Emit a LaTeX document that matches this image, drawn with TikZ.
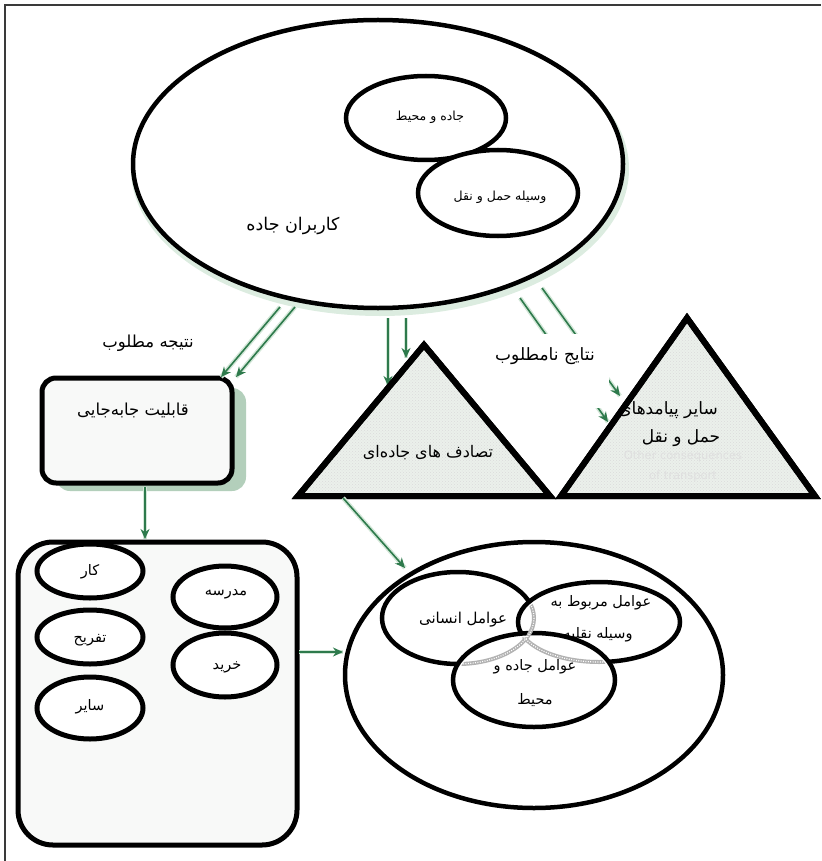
\documentclass[tikz,border=0pt]{standalone}
\usepackage{fontspec}
\usetikzlibrary{shapes.geometric,arrows.meta,patterns}
\newfontfamily\fa[Script=Arabic]{DejaVu Sans}
\TeXXeTstate=1
\newcommand\rl[1]{\beginR #1\endR}
\definecolor{arrgreen}{HTML}{2E7A4C}
\definecolor{glow}{HTML}{D3E7D8}
\definecolor{trifill}{HTML}{EBF0EB}
\definecolor{boxfill}{HTML}{F8F9F8}
\definecolor{shadowgreen}{HTML}{B3CFBB}
\definecolor{framegray}{HTML}{3A3A3A}
\tikzset{
  ellbox/.style={ellipse, draw=black, line width=4.5pt, fill=white, inner sep=0pt},
  garrow/.style={draw=arrgreen, line width=1.6pt, -{Stealth[length=10pt,width=9pt]},
     preaction={draw=glow, line width=4.5pt, -{}}},
  fatxt/.style={font=\fa\fontsize{#1}{#1}\selectfont, inner sep=0pt},
  fatxt/.default=13,
  tri/.style={draw=black, line width=6pt, line join=miter, fill=trifill},
  hidden/.style={draw=gray!60, line width=4pt},
  hiddendots/.style={draw=white, line width=1.2pt, dash pattern=on 1pt off 1.4pt},
}
\begin{document}
\begin{tikzpicture}[x=1pt,y=-1pt]
\useasboundingbox (0,0) rectangle (821,861);
% frame
\draw[framegray, line width=2pt] (5,861) -- (5,5) -- (821,5);

% ---------- top ellipse group ----------
\fill[glow!80] (380,169) ellipse [x radius=249, y radius=147];
\node[ellbox, minimum width=490pt, minimum height=288pt] (users) at (378,164) {};
\node[ellbox, minimum width=160pt, minimum height=84pt] (road) at (426,118) {};
\node[ellbox, minimum width=160pt, minimum height=86pt] (vehicle) at (498,193) {};
\node[fatxt=12.5] (troad) at (430,117) {\rl{جاده و محیط}};
\node[fatxt=12.5] (tveh) at (500,197) {\rl{وسیله حمل و نقل}};
\node[fatxt=17.5] (tusers) at (293,226) {\rl{کاربران جاده}};

% ---------- mobility rectangle ----------
\fill[shadowgreen, rounded corners=14pt] (56,388) rectangle (246,491);
\node[draw=black, line width=5pt, fill=boxfill, rounded corners=14pt,
      minimum width=190pt, minimum height=105pt, inner sep=0pt] (mob) at (137,430.5) {};
\node[fatxt=16.5] (tmob) at (133,410) {\rl{قابلیت جابه‌جایی}};
\node[fatxt=16.5] (tdes) at (148,343) {\rl{نتیجه مطلوب}};

% ---------- connectors from road users ----------
\coordinate (a1s) at (280,307); \coordinate (a1e) at (221,377);
\coordinate (a2s) at (295,307); \coordinate (a2e) at (236,377);
\coordinate (a3s) at (388,318); \coordinate (a3e) at (388,386);
\coordinate (a4s) at (406,318); \coordinate (a4e) at (406,358);
\coordinate (a5s) at (542,288); \coordinate (a5e) at (620,396);
\coordinate (a6s) at (520,298); \coordinate (a6e) at (608,422);
\draw[garrow] (a1s) -- (a1e);
\draw[garrow] (a2s) -- (a2e);
\draw[garrow] (a3s) -- (a3e);
\draw[garrow] (a4s) -- (a4e);
\draw[garrow] (a5s) -- (a5e);
\draw[garrow] (a6s) -- (a6e);
\node[fill=white, minimum width=137pt, minimum height=74pt, inner sep=0pt] (undesbox) at (540.5,371) {};
\node[fatxt=17] (tundes) at (545,356) {\rl{نتایج نامطلوب}};

% ---------- triangles ----------
\coordinate (t1a) at (424,345); \coordinate (t1b) at (298,496); \coordinate (t1c) at (550,496);
\coordinate (t2a) at (687,318); \coordinate (t2b) at (561,496); \coordinate (t2c) at (815,496);
\draw[tri] (t1a) -- (t1b) -- (t1c) -- cycle;
\fill[pattern=crosshatch dots, pattern color=gray!28] (t1a) -- (t1b) -- (t1c) -- cycle;
\draw[tri, fill=none] (t1a) -- (t1b) -- (t1c) -- cycle;
\draw[tri] (t2a) -- (t2b) -- (t2c) -- cycle;
\fill[pattern=crosshatch dots, pattern color=gray!28] (t2a) -- (t2b) -- (t2c) -- cycle;
\draw[tri, fill=none] (t2a) -- (t2b) -- (t2c) -- cycle;
\node[fatxt=16] (tcrash) at (428,453) {\rl{تصادف های جاده‌ای}};
\node[font=\fa\fontsize{11.5}{11.5}\selectfont, text=gray!25, inner sep=0pt] (teng1) at (683,456) {Other consequences};
\node[font=\fa\fontsize{11.5}{11.5}\selectfont, text=gray!25, inner sep=0pt] (teng2) at (683,476) {of transport};
\node[fatxt=17] (tother1) at (668,410) {\rl{سایر پیامدهای}};
\node[fatxt=17] (tother2) at (681,438) {\rl{حمل و نقل}};

% ---------- purposes box ----------
\node[draw=black, line width=5pt, fill=boxfill, rounded corners=35pt,
      minimum width=279pt, minimum height=303pt, inner sep=0pt] (purp) at (157.5,693.5) {};
\node[ellbox, line width=5pt, minimum width=106pt, minimum height=54pt] (work) at (90,571) {};
\node[ellbox, line width=5pt, minimum width=106pt, minimum height=54pt] (leis) at (90,637) {};
\node[ellbox, line width=5pt, minimum width=106pt, minimum height=62pt] (oth) at (90,708) {};
\node[ellbox, line width=5pt, minimum width=104pt, minimum height=62pt] (school) at (225,597) {};
\node[ellbox, line width=5pt, minimum width=104pt, minimum height=64pt] (shop) at (225,665) {};
\node[fatxt=14.5] at (90,572) {\rl{کار}};
\node[fatxt=14.5] at (90,640) {\rl{تفریح}};
\node[fatxt=14.5] at (90,707) {\rl{سایر}};
\node[fatxt=14.5] at (226,594) {\rl{مدرسه}};
\node[fatxt=14.5] at (227,667) {\rl{خرید}};

% ---------- factors ellipse ----------
\node[ellbox, minimum width=378pt, minimum height=266pt] (factors) at (534,675) {};
\node[ellbox, minimum width=152pt, minimum height=92pt] (human) at (458,618) {};
\node[ellbox, minimum width=162pt, minimum height=80pt] (vehf) at (599,622) {};
\node[fatxt=15] (thuman) at (463,620) {\rl{عوامل انسانی}};
\node[fatxt=14.5] (tvehf1) at (601,603) {\rl{عوامل مربوط به}};
\node[fatxt=14.5] (tvehf2) at (598,635) {\rl{وسیله نقلیه}};
\node[ellbox, minimum width=162pt, minimum height=94pt] (roadf) at (534,680) {};
\begin{scope}
  \clip (599,622) ellipse [x radius=77, y radius=36];
  \draw[hidden] (458,618) ellipse [x radius=76, y radius=46];
  \draw[hiddendots] (458,618) ellipse [x radius=76, y radius=46];
\end{scope}
\begin{scope}
  \clip (534,680) ellipse [x radius=77, y radius=43];
  \draw[hidden] (458,618) ellipse [x radius=76, y radius=46];
  \draw[hidden] (599,622) ellipse [x radius=81, y radius=40];
  \draw[hiddendots] (458,618) ellipse [x radius=76, y radius=46];
  \draw[hiddendots] (599,622) ellipse [x radius=81, y radius=40];
\end{scope}
\node[fatxt=14.5] (troadf1) at (535,667) {\rl{عوامل جاده و}};
\node[fatxt=14.5] (troadf2) at (535,700) {\rl{محیط}};

% ---------- lower connectors ----------
\coordinate (b1s) at (145,487); \coordinate (b1e) at (145,539);
\coordinate (b2s) at (299,652); \coordinate (b2e) at (343,652);
\coordinate (b3s) at (343,498); \coordinate (b3e) at (405,568);
\draw[garrow] (b1s) -- (b1e);
\draw[garrow] (b2s) -- (b2e);
\draw[garrow] (b3s) -- (b3e);
\end{tikzpicture}
\end{document}
